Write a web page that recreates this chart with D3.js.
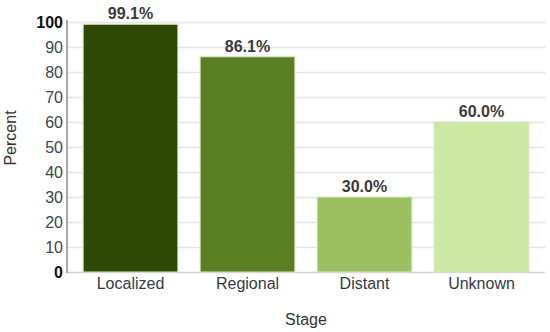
<!DOCTYPE html>
<html>
<head>
<meta charset="utf-8">
<script src="https://cdn.jsdelivr.net/npm/d3@7"></script>
<style>
  body { margin: 0; background: #fff; }
  text { font-family: "Liberation Sans", Arial, sans-serif; }
</style>
</head>
<body>
<svg width="550" height="332"></svg>
<script>
var stages = ['Localized', 'Regional', 'Distant', 'Unknown'];
var percents = [99.1, 86.1, 30.0, 60.0];
var barColors = ['#2e4906', '#5a7f22', '#9cbf62', '#cde8a4'];
var yTicks = [0, 10, 20, 30, 40, 50, 60, 70, 80, 90, 100];

var svg = d3.select('svg');
var plotLeft = 67, plotRight = 545, plotTop = 22, plotBottom = 272;

var x = d3.scaleBand()
  .domain(stages)
  .range([72, 540])
  .paddingInner(0.19)
  .paddingOuter(0.095);

var y = d3.scaleLinear().domain([0, 100]).range([plotBottom, plotTop]);

// gridlines
svg.selectAll('line.grid')
  .data(yTicks)
  .enter()
  .append('line')
    .attr('class', 'grid')
    .attr('x1', plotLeft).attr('x2', plotRight)
    .attr('y1', function(d){ return y(d) + 0.5 })
    .attr('y2', function(d){ return y(d) + 0.5 })
    .style('stroke', function(d){ return d === 0 ? '#d0d0d0' : '#e6e6e6' })
    .style('stroke-width', 1.5);

// y axis
var yAxis = d3.axisLeft(y).tickValues(yTicks).tickSize(0).tickPadding(4);
var gy = svg.append('g').attr('transform', 'translate(' + plotLeft + ',0)').call(yAxis);
gy.select('.domain').remove();
gy.selectAll('text')
  .style('font-size', '16px')
  .style('fill', function(d){ return (d === 0 || d === 100) ? '#111' : '#3b4453' })
  .style('font-weight', function(d){ return (d === 0 || d === 100) ? 'bold' : 'normal' });

svg.append('line')
  .attr('x1', plotLeft).attr('x2', plotLeft)
  .attr('y1', plotTop - 2).attr('y2', plotBottom + 1)
  .style('stroke', '#a8a8a8')
  .style('stroke-width', 2);

// bars
svg.selectAll('rect.bar')
  .data(percents)
  .enter()
  .append('rect')
    .attr('class', 'bar')
    .attr('x', function(d, i){ return x(stages[i]) })
    .attr('width', x.bandwidth())
    .attr('y', function(d){ return y(d) })
    .attr('height', function(d){ return y(0) - y(d) })
    .style('fill', function(d, i){ return barColors[i] })
    .style('stroke', '#d9e8c8')
    .style('stroke-width', 1);

// value labels
svg.selectAll('text.val')
  .data(percents)
  .enter()
  .append('text')
    .attr('class', 'val')
    .attr('x', function(d, i){ return x(stages[i]) + x.bandwidth() / 2 })
    .attr('y', function(d){ return y(d) - 5 })
    .attr('text-anchor', 'middle')
    .style('font-size', '16px')
    .style('font-weight', 'bold')
    .style('fill', '#3a3a3a')
    .text(function(d){ return d.toFixed(1) + '%' });

// x axis
var xAxis = d3.axisBottom(x).tickSize(0).tickPadding(6);
var gx = svg.append('g').attr('transform', 'translate(0,' + plotBottom + ')').call(xAxis);
gx.select('.domain').remove();
gx.selectAll('text')
  .style('font-size', '16px')
  .style('fill', '#333a45');

// axis titles
svg.append('text')
  .attr('x', 306).attr('y', 325)
  .attr('text-anchor', 'middle')
  .style('font-size', '16px')
  .style('fill', '#333')
  .text('Stage');

svg.append('text')
  .attr('transform', 'translate(16,138) rotate(-90)')
  .attr('text-anchor', 'middle')
  .style('font-size', '16px')
  .style('fill', '#333')
  .text('Percent');
</script>
</body>
</html>
